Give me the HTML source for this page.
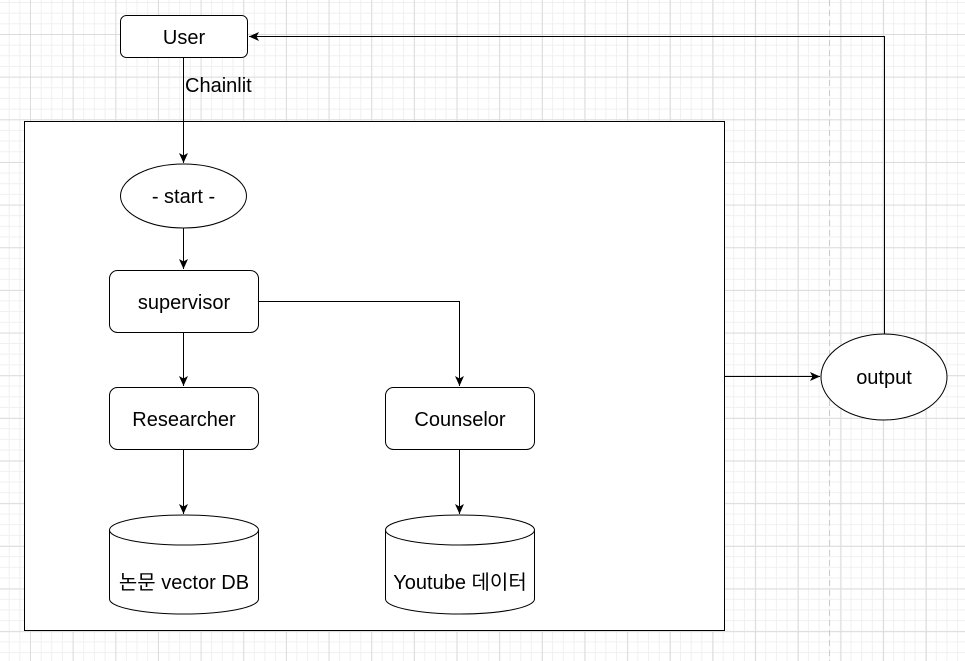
<!DOCTYPE html>
<html><head><style>
body{margin:0;width:965px;height:661px;overflow:hidden;background:#fff;
background-image:linear-gradient(#dcdcdc 1px,transparent 1px),linear-gradient(90deg,#dcdcdc 1px,transparent 1px),linear-gradient(#f0f0f0 1px,transparent 1px),linear-gradient(90deg,#f0f0f0 1px,transparent 1px);
background-size:42.67px 42.67px,42.67px 42.67px,10.67px 10.67px,10.67px 10.67px;
background-position:0 34px,30px 0,0 34px,30px 0;}
svg{position:absolute;left:0;top:0}
text{font-family:"Liberation Sans","Noto Sans CJK KR",sans-serif;font-size:20px;fill:#000}
</style></head><body>
<svg width="965" height="661">
<defs><marker id="a" markerWidth="12" markerHeight="12" refX="10" refY="5.5" orient="auto" markerUnits="userSpaceOnUse"><path d="M0,1 L10,5.5 L0,10 L2.5,5.5z" fill="#000"/></marker></defs>
<line x1="829.5" y1="0" x2="829.5" y2="661" stroke="#ccc" stroke-dasharray="6,4"/>
<rect x="24.5" y="121.5" width="700" height="509" fill="#fff" stroke="#000"/>
<rect x="120.5" y="15.5" width="127" height="42" rx="6" fill="#fff" stroke="#000"/>
<text x="184" y="44" text-anchor="middle">User</text>
<text x="185" y="92">Chainlit</text>
<line x1="183.5" y1="58" x2="183.5" y2="163" stroke="#000" marker-end="url(#a)"/>
<ellipse cx="183.5" cy="196" rx="63" ry="32" fill="#fff" stroke="#000"/>
<text x="183.5" y="203" text-anchor="middle">- start -</text>
<line x1="183.5" y1="228" x2="183.5" y2="269" stroke="#000" marker-end="url(#a)"/>
<rect x="109.5" y="270.5" width="149" height="62" rx="8" fill="#fff" stroke="#000"/>
<text x="184" y="309" text-anchor="middle">supervisor</text>
<line x1="183.5" y1="333" x2="183.5" y2="386" stroke="#000" marker-end="url(#a)"/>
<polyline points="259,301.5 459.5,301.5 459.5,386" fill="none" stroke="#000" marker-end="url(#a)"/>
<rect x="109.5" y="387.5" width="149" height="62" rx="8" fill="#fff" stroke="#000"/>
<text x="184" y="426" text-anchor="middle">Researcher</text>
<rect x="385.5" y="387.5" width="149" height="62" rx="8" fill="#fff" stroke="#000"/>
<text x="460" y="426" text-anchor="middle">Counselor</text>
<line x1="183.5" y1="450" x2="183.5" y2="514" stroke="#000" marker-end="url(#a)"/>
<line x1="459.5" y1="450" x2="459.5" y2="514" stroke="#000" marker-end="url(#a)"/>
<path d="M109.5,530 A74.5,15 0 0 1 258.5,530 V599 A74.5,15 0 0 1 109.5,599 Z" fill="#fff" stroke="#000"/>
<path d="M109.5,530 A74.5,15 0 0 0 258.5,530" fill="none" stroke="#000"/>
<text x="184" y="589" text-anchor="middle">논문 vector DB</text>
<path d="M385.5,530 A74.5,15 0 0 1 534.5,530 V599 A74.5,15 0 0 1 385.5,599 Z" fill="#fff" stroke="#000"/>
<path d="M385.5,530 A74.5,15 0 0 0 534.5,530" fill="none" stroke="#000"/>
<text x="460" y="589" text-anchor="middle">Youtube 데이터</text>
<line x1="725" y1="376.5" x2="820" y2="376.5" stroke="#000" marker-end="url(#a)"/>
<ellipse cx="884" cy="377" rx="63" ry="43" fill="#fff" stroke="#000"/>
<text x="884" y="384" text-anchor="middle">output</text>
<polyline points="884.5,334 884.5,36.5 249,36.5" fill="none" stroke="#000" marker-end="url(#a)"/>
</svg>
</body></html>
